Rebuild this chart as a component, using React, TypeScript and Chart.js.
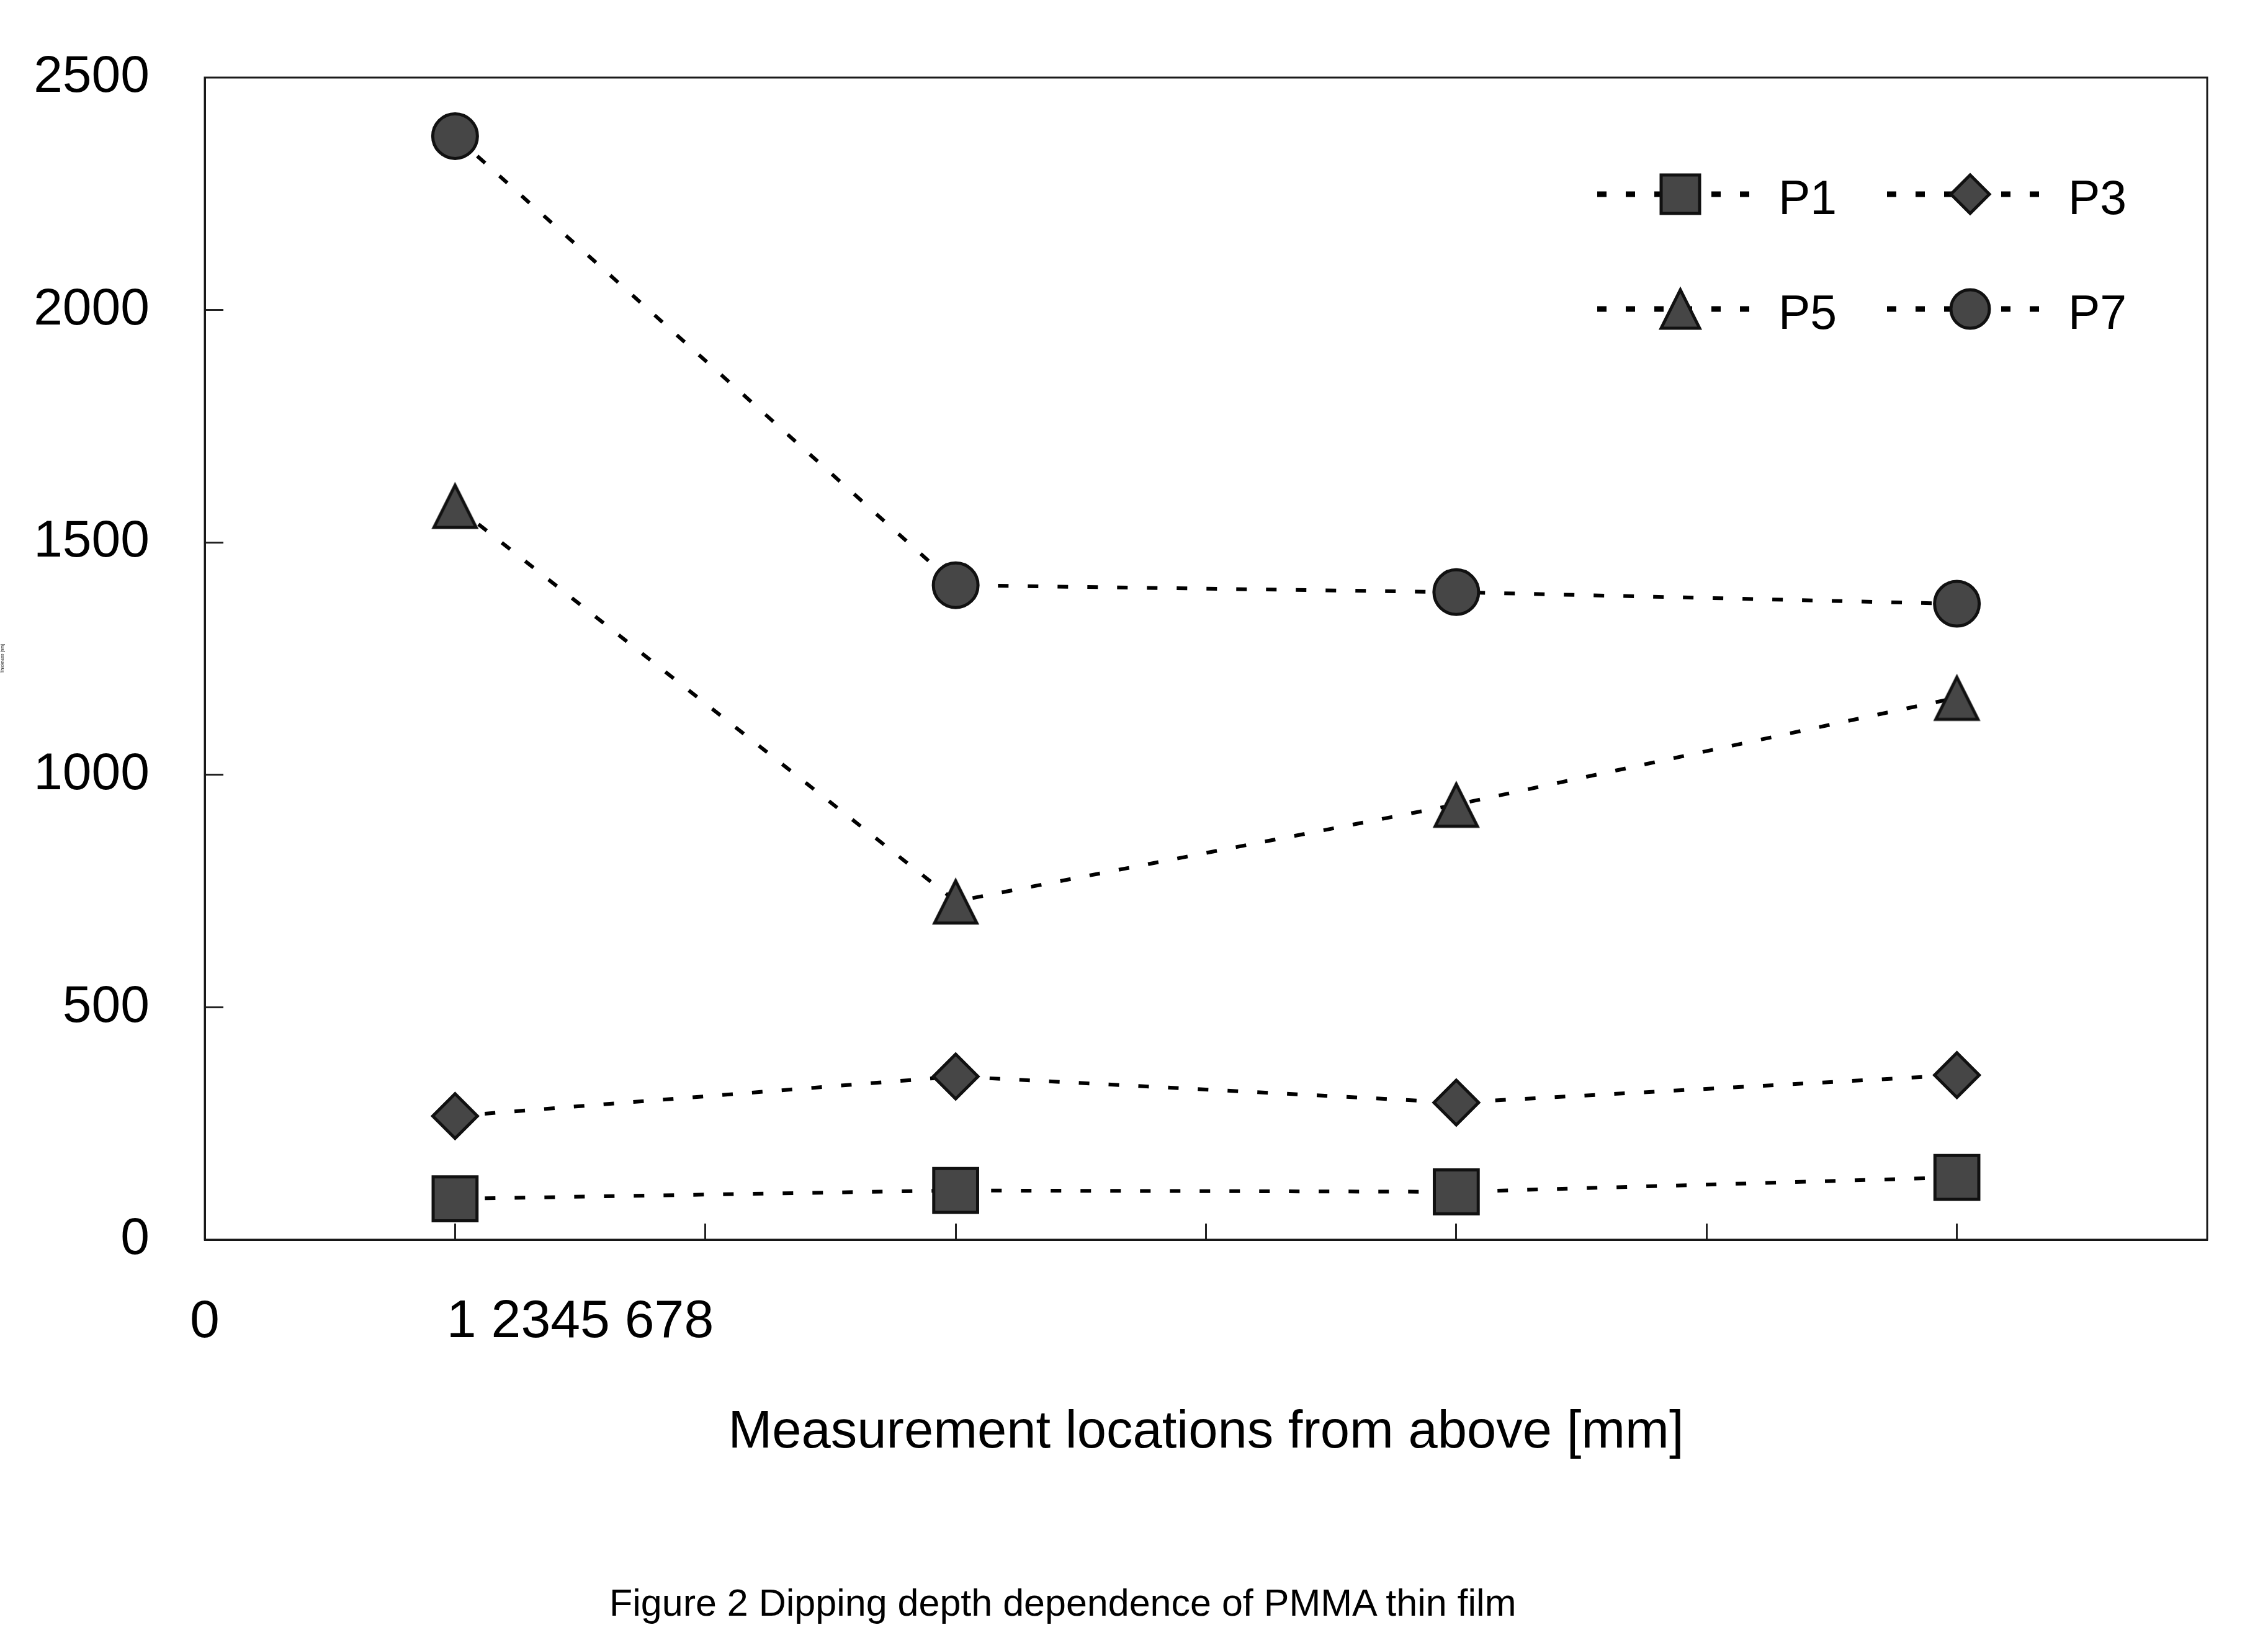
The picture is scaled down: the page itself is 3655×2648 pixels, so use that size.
import { useEffect, useRef } from 'react';
import { Chart, registerables } from 'chart.js';

Chart.register(...registerables);

const positions = [1, 3, 5, 7];
const seriesNames = ['P1', 'P3', 'P5', 'P7'];
const p1 = [88, 106, 103, 134];
const p3 = [266, 351, 295, 354];
const p5 = [1579, 728, 936, 1166];
const p7 = [2374, 1408, 1393, 1368];

const yTicks = [0, 500, 1000, 1500, 2000, 2500];
const xTickMarks = [0, 1, 2, 3, 4, 5, 6, 7, 8];
const xTickValues = [0, 1.5];
const xTickLabels = ['0', '1 2345 678'];

const xTitle = 'Measurement locations from above [mm]';
const yTitle = 'Thickness [nm]';
const caption = 'Figure 2 Dipping depth dependence of PMMA thin film';

const FONT = "'Liberation Sans', Arial, Helvetica, sans-serif";
const FILL = '#464646';
const EDGE = '#111111';

function drawMarker(ctx: CanvasRenderingContext2D, style: string, x: number, y: number, s: number) {
  ctx.beginPath();
  if (style === 'rect') {
    ctx.rect(x - s, y - s, 2 * s, 2 * s);
  } else if (style === 'rectRot') {
    ctx.moveTo(x, y - s);
    ctx.lineTo(x + s, y);
    ctx.lineTo(x, y + s);
    ctx.lineTo(x - s, y);
    ctx.closePath();
  } else if (style === 'triangle') {
    ctx.moveTo(x, y - s);
    ctx.lineTo(x + s, y + s);
    ctx.lineTo(x - s, y + s);
    ctx.closePath();
  } else {
    ctx.arc(x, y, s, 0, Math.PI * 2);
  }
  ctx.setLineDash([]);
  ctx.fillStyle = FILL;
  ctx.fill();
  ctx.lineWidth = 5;
  ctx.lineJoin = 'miter';
  ctx.strokeStyle = EDGE;
  ctx.stroke();
}

// Excel-style triangle: centred on its bounding box rather than its centroid
function triangleImage(half: number) {
  const size = Math.ceil(half * 2 + 12);
  const c = document.createElement('canvas');
  c.width = size;
  c.height = size;
  const g = c.getContext('2d');
  if (g) drawMarker(g, 'triangle', size / 2, size / 2 + 1, half);
  return c;
}

// box around the plot area (top and right sides)
const framePlugin = {
  id: 'frame',
  beforeDatasetsDraw(chart: Chart) {
    const { ctx, chartArea: a } = chart;
    ctx.save();
    ctx.strokeStyle = '#1a1a1a';
    ctx.lineWidth = 3;
    ctx.strokeRect(a.left, a.top, a.right - a.left, a.bottom - a.top);
    ctx.restore();
  },
};

// two-column legend with dotted line + marker, inside the plot
const legendPlugin = {
  id: 'dottedLegend',
  afterDraw(chart: Chart) {
    const { ctx, chartArea: a } = chart;
    const colX = [a.right - 983, a.right - 516];
    const rowY = [a.top + 188, a.top + 373];
    ctx.save();
    chart.data.datasets.forEach((ds: any, i: number) => {
      const x0 = colX[i % 2];
      const y = rowY[Math.floor(i / 2)];
      ctx.beginPath();
      ctx.setLineDash([15, 31]);
      ctx.lineWidth = 9;
      ctx.strokeStyle = '#000';
      ctx.moveTo(x0, y);
      ctx.lineTo(x0 + 257, y);
      ctx.stroke();
      drawMarker(ctx, ds.marker, x0 + 134, y, 31);
      ctx.fillStyle = '#000';
      ctx.font = `77px ${FONT}`;
      ctx.textAlign = 'left';
      ctx.textBaseline = 'alphabetic';
      ctx.fillText(ds.label, x0 + 292, y + 32);
    });
    ctx.restore();
  },
};

function series(label: string, values: number[], marker: string, pointStyle: any, pointRadius: number) {
  return {
    label,
    marker,
    data: values.map((y, i) => ({ x: positions[i], y })),
    pointStyle,
    pointRadius,
    pointHoverRadius: pointRadius,
    pointBackgroundColor: FILL,
    pointBorderColor: EDGE,
    pointBorderWidth: 5,
    borderColor: '#000',
    borderWidth: 6,
    borderDash: [17, 31],
    fill: false,
    tension: 0,
  };
}

function zeroPadding(s: any) {
  s.paddingTop = 0;
  s.paddingBottom = 0;
  s.paddingLeft = 0;
  s.paddingRight = 0;
}

function DippingChart() {
  const canvasRef = useRef<HTMLCanvasElement>(null);
  const chartRef = useRef<Chart | null>(null);

  useEffect(() => {
    if (!canvasRef.current) return;
    chartRef.current?.destroy();
    chartRef.current = new Chart(canvasRef.current, {
      type: 'line',
      data: {
        datasets: [
          series(seriesNames[0], p1, 'rect', 'rect', 50),
          series(seriesNames[1], p3, 'rectRot', 'rectRot', 36),
          series(seriesNames[2], p5, 'triangle', triangleImage(34), 36),
          series(seriesNames[3], p7, 'circle', 'circle', 36),
        ] as any,
      },
      options: {
        animation: false,
        responsive: true,
        maintainAspectRatio: false,
        layout: { padding: { left: 0, top: 125, right: 98, bottom: 0 } },
        font: { family: FONT },
        plugins: { legend: { display: false }, tooltip: { enabled: false } },
        scales: {
          x: {
            type: 'linear',
            min: 0,
            max: 8,
            afterFit: (s: any) => {
              s.height = 650;
              zeroPadding(s);
            },
            afterBuildTicks: (s: any) => {
              const vals = Array.from(new Set([...xTickMarks, ...xTickValues])).sort((a, b) => a - b);
              s.ticks = vals.map((v) => ({ value: v }));
            },
            border: { display: true, color: '#111', width: 3 },
            grid: {
              drawOnChartArea: false,
              drawTicks: true,
              tickLength: -26,
              tickWidth: 3,
              tickColor: (c: any) => {
                const v = c.tick?.value;
                return Number.isInteger(v) && v > 0 && v < 8 ? '#222' : 'rgba(0,0,0,0)';
              },
            },
            ticks: {
              autoSkip: false,
              maxRotation: 0,
              padding: 108,
              color: '#000',
              font: { family: FONT, size: 86 },
              callback: (v: any) => {
                const i = xTickValues.indexOf(Number(v));
                return i >= 0 ? xTickLabels[i] : '';
              },
            },
            title: {
              display: true,
              text: xTitle,
              color: '#000',
              font: { family: FONT, size: 85 },
              padding: { top: 0, bottom: 287 },
            },
          },
          y: {
            type: 'linear',
            min: 0,
            max: 2500,
            afterFit: (s: any) => {
              s.width = 330;
              zeroPadding(s);
            },
            afterBuildTicks: (s: any) => {
              s.ticks = yTicks.map((v) => ({ value: v }));
            },
            border: { display: true, color: '#111', width: 3 },
            grid: {
              drawOnChartArea: false,
              drawTicks: true,
              tickLength: -30,
              tickWidth: 3,
              tickColor: (c: any) => (c.tick?.value > 0 && c.tick?.value < 2500 ? '#222' : 'rgba(0,0,0,0)'),
            },
            ticks: {
              padding: 119,
              color: '#000',
              font: { family: FONT, size: 84 },
              callback: (v: any) => String(v),
            },
            title: {
              display: true,
              text: yTitle,
              color: '#000',
              font: { family: FONT, size: 7 },
              padding: 0,
            },
          },
        },
      },
      plugins: [framePlugin, legendPlugin],
    });
    return () => chartRef.current?.destroy();
  }, []);

  return <canvas ref={canvasRef} />;
}

export default function App() {
  return (
    <div style={{ position: 'fixed', left: 0, top: 0, width: '100vw', height: '100vh', background: '#fff' }}>
      <DippingChart />
      <div
        style={{
          position: 'absolute',
          left: 982,
          top: 2553,
          fontFamily: FONT,
          fontSize: 61,
          lineHeight: 1,
          whiteSpace: 'nowrap',
          color: '#000',
        }}
      >
        {caption}
      </div>
    </div>
  );
}
